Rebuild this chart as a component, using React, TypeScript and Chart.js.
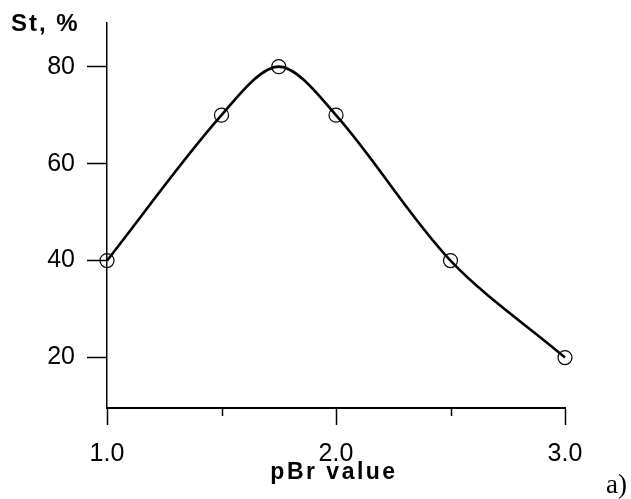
import React, { useEffect, useRef } from "react";
import { Chart, registerables } from "chart.js";

Chart.register(...registerables);

const PBR_VALUES = [1.0, 1.5, 1.75, 2.0, 2.5, 3.0];
const ST_VALUES = [40, 70, 80, 70, 40, 20];
const Y_TICKS = [20, 40, 60, 80];
const X_MAJOR_TICKS = [1.0, 2.0, 3.0];
const X_MINOR_TICKS = [1.5, 2.5];
const Y_LABEL = "St, %";
const X_LABEL = "pBr value";
const PANEL_LABEL = "a)";

const zeroPad = (s: any) => {
  s.paddingTop = 0;
  s.paddingBottom = 0;
  s.paddingLeft = 0;
  s.paddingRight = 0;
};

const textPlugin = {
  id: "textPlugin",
  afterDraw(chart: any) {
    const ctx = chart.ctx;
    const xs = chart.scales.x;
    const area = chart.chartArea;
    ctx.save();
    ctx.strokeStyle = "#000";
    ctx.lineWidth = 1.5;
    X_MINOR_TICKS.forEach((v) => {
      const px = Math.round(xs.getPixelForValue(v)) + 0.5;
      ctx.beginPath();
      ctx.moveTo(px, area.bottom);
      ctx.lineTo(px, area.bottom + 8);
      ctx.stroke();
    });
    ctx.fillStyle = "#000";
    (ctx as any).letterSpacing = "2px";
    ctx.font = "bold 24px 'Liberation Sans', Arial, sans-serif";
    ctx.textAlign = "left";
    ctx.textBaseline = "alphabetic";
    ctx.fillText(Y_LABEL, 11, 31);
    (ctx as any).letterSpacing = "2.5px";
    ctx.font = "bold 23px 'Liberation Sans', Arial, sans-serif";
    ctx.textAlign = "center";
    ctx.fillText(X_LABEL, 334, 479);
    (ctx as any).letterSpacing = "0px";
    ctx.font = "27px 'Liberation Serif', 'Times New Roman', serif";
    ctx.textAlign = "left";
    ctx.fillText(PANEL_LABEL, 606, 493);
    ctx.restore();
  },
};

export default function App() {
  const ref = useRef<HTMLCanvasElement>(null);
  useEffect(() => {
    const chart = new Chart(ref.current!, {
      type: "line",
      data: {
        datasets: [
          {
            data: PBR_VALUES.map((x, i) => ({ x, y: ST_VALUES[i] })),
            borderColor: "#000",
            borderWidth: 2.6,
            tension: 0.32,
            clip: false,
            pointRadius: 7,
            pointBorderWidth: 1.2,
            pointBorderColor: "#000",
            pointBackgroundColor: "rgba(0,0,0,0)",
            fill: false,
          },
        ],
      },
      options: {
        animation: false,
        responsive: false,
        events: [],
        layout: { padding: { left: 0, top: 23, right: 66, bottom: 0 } },
        plugins: { legend: { display: false }, tooltip: { enabled: false } },
        scales: {
          x: {
            type: "linear",
            min: 1.0,
            max: 3.0,
            afterFit: (s: any) => {
              s.height = 91;
              zeroPad(s);
            },
            afterBuildTicks: (s: any) => {
              s.ticks = X_MAJOR_TICKS.map((v) => ({ value: v }));
            },
            border: { display: true, color: "#000", width: 2 },
            grid: {
              drawOnChartArea: false,
              drawTicks: true,
              tickLength: 17,
              tickColor: "#000",
              tickWidth: 1.5,
            },
            ticks: {
              color: "#000",
              padding: 14,
              maxRotation: 0,
              font: { family: "'Liberation Sans', Arial, sans-serif", size: 25 },
              callback: (v: any) => Number(v).toFixed(1),
            },
          },
          y: {
            min: 9.6,
            max: 89,
            afterFit: (s: any) => {
              s.width = 107;
              zeroPad(s);
            },
            afterBuildTicks: (s: any) => {
              s.ticks = Y_TICKS.map((v) => ({ value: v }));
            },
            border: { display: true, color: "#000", width: 1.5 },
            grid: {
              drawOnChartArea: false,
              drawTicks: true,
              tickLength: 20,
              tickColor: "#000",
              tickWidth: 1.5,
            },
            ticks: {
              color: "#000",
              padding: 12,
              font: { family: "'Liberation Sans', Arial, sans-serif", size: 25 },
              callback: (v: any) => String(v),
            },
          },
        },
      },
      plugins: [textPlugin],
    } as any);
    return () => chart.destroy();
  }, []);
  return (
    <div style={{ position: "fixed", left: 0, top: 0, width: 631, height: 499, background: "#fff" }}>
      <canvas ref={ref} width={631} height={499} />
    </div>
  );
}
